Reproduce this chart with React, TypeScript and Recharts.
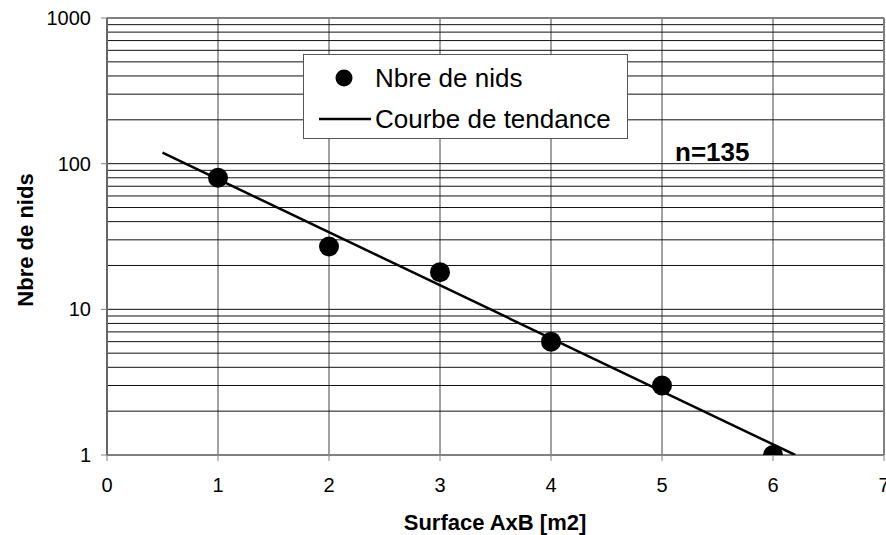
import React from 'react'
import {
  ScatterChart, Scatter, XAxis, YAxis, CartesianGrid, ReferenceLine, Legend, Customized,
} from 'recharts'

const xTicks = [0, 1, 2, 3, 4, 5, 6, 7]
const yTicks = [1, 10, 100, 1000]
// horizontal grid lines (log minor + major)
const yGrid = [
  2, 3, 4, 5, 6, 7, 8, 9, 10,
  20, 30, 40, 50, 60, 70, 80, 90, 100,
  200, 300, 400, 500, 600, 700, 800, 900,
]

const surface = [1, 2, 3, 4, 5, 6]
const nids = [80, 27, 18, 6, 3, 1]
const nidsData = surface.map((x, i) => ({ x, y: nids[i] }))

// trend line end points
const trendX = [0.5, 6.2]
const trendY = [119, 1]
const trendData = trendX.map((x, i) => ({ x, y: trendY[i] }))

const FONT = '"Liberation Sans", Arial, sans-serif'
const BORDER = '#808080'

function LegendBox() {
  return (
    <svg width={325} height={85} style={{ display: 'block' }}>
      <rect x={0.5} y={0.5} width={324} height={84} fill="#fff" stroke="#555" strokeWidth={1} />
      <circle cx={41} cy={24} r={8.5} fill="#000" />
      <text x={72} y={24} dy="0.355em" fontSize={26} fontFamily={FONT} fill="#000">Nbre de nids</text>
      <line x1={16} x2={68} y1={65} y2={65} stroke="#000" strokeWidth={2.5} />
      <text x={72} y={65} dy="0.355em" fontSize={26} fontFamily={FONT} fill="#000">Courbe de tendance</text>
    </svg>
  )
}

function Titles() {
  return (
    <g fontFamily={FONT} fill="#000" fontWeight="bold">
      <text x={495} y={530} fontSize={22} textAnchor="middle">Surface AxB [m2]</text>
      <text transform="translate(33,240) rotate(-90)" fontSize={22} textAnchor="middle">Nbre de nids</text>
      <text x={675} y={161} fontSize={26}>n=135</text>
    </g>
  )
}

export default function App() {
  return (
    <div style={{ position: 'absolute', left: 0, top: 0, background: '#fff' }}>
      <ScatterChart
        width={886}
        height={535}
        margin={{ top: 18, right: 2, bottom: 0, left: 0 }}
        style={{ fontFamily: FONT }}
      >
        <CartesianGrid horizontal={false} stroke="#444" strokeWidth={1} />
        {yGrid.map(v => (
          <ReferenceLine key={v} y={v} stroke="#111" strokeWidth={1} />
        ))}
        <ReferenceLine y={1000} stroke={BORDER} strokeWidth={2} />
        <ReferenceLine x={7} stroke={BORDER} strokeWidth={2} />
        <XAxis
          type="number"
          dataKey="x"
          domain={[0, 7]}
          ticks={xTicks}
          interval={0}
          height={80}
          tickSize={6}
          tickMargin={17}
          axisLine={{ stroke: BORDER, strokeWidth: 2 }}
          tickLine={{ stroke: BORDER, strokeWidth: 1 }}
          tick={{ fontSize: 20, fill: '#000' }}
          allowDataOverflow
        />
        <YAxis
          type="number"
          dataKey="y"
          scale="log"
          domain={[1, 1000]}
          ticks={yTicks}
          interval={0}
          width={107}
          tickSize={6}
          tickMargin={10}
          axisLine={{ stroke: '#666', strokeWidth: 2 }}
          tickLine={{ stroke: BORDER, strokeWidth: 1 }}
          tick={{ fontSize: 20, fill: '#000' }}
          allowDataOverflow
        />
        <Scatter
          name="Courbe de tendance"
          data={trendData}
          line={{ stroke: '#000', strokeWidth: 2.5 }}
          shape={() => <g />}
          isAnimationActive={false}
        />
        <Scatter
          name="Nbre de nids"
          data={nidsData}
          fill="#000"
          shape={(p: any) => <circle cx={p.cx} cy={p.cy} r={10} fill="#000" />}
          isAnimationActive={false}
        />
        <Legend
          layout="horizontal"
          verticalAlign="middle"
          align="center"
          content={() => <LegendBox />}
          wrapperStyle={{ left: 303, top: 54, width: 325, height: 85 }}
        />
        <Customized component={Titles} />
      </ScatterChart>
    </div>
  )
}
